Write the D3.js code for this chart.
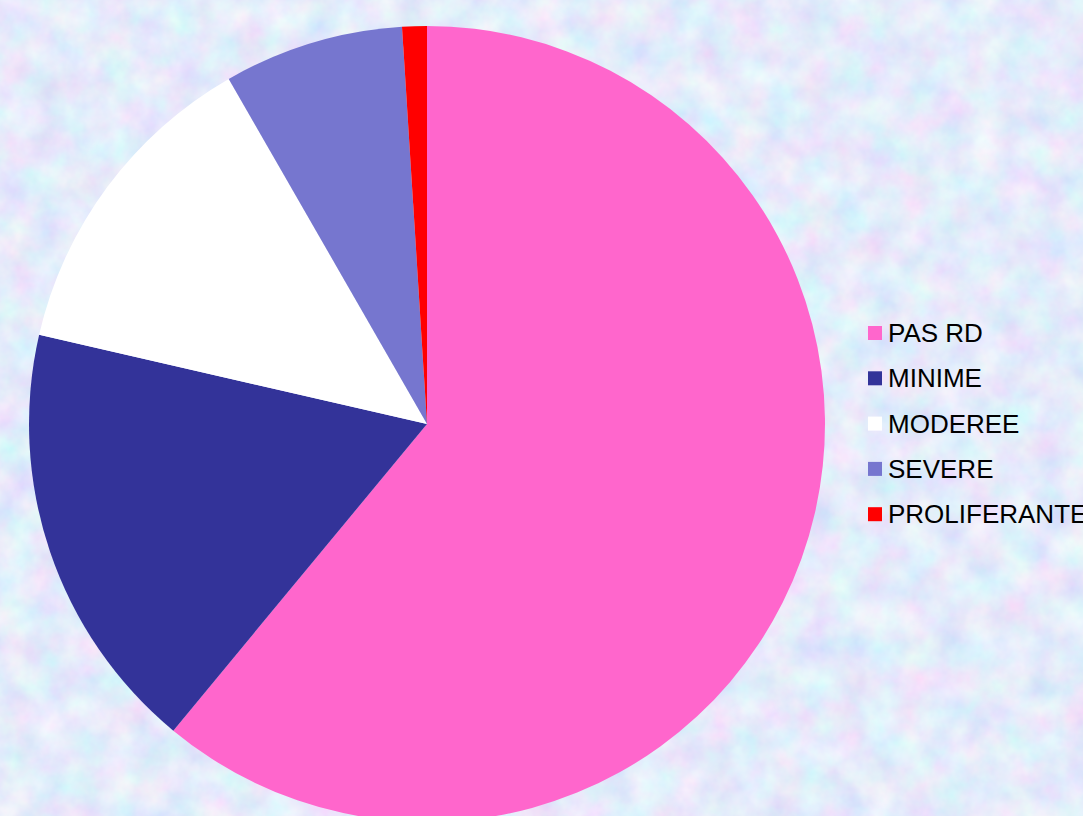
<!DOCTYPE html>
<html>
<head>
<meta charset="utf-8">
<script src="https://cdn.jsdelivr.net/npm/d3@7"></script>
<style>
  html, body { margin: 0; padding: 0; overflow: hidden; }
  svg { display: block; }
</style>
</head>
<body>
<svg id="chart"></svg>
<script>
// data (share of patients, %)
var categories = ["PAS RD", "MINIME", "MODEREE", "SEVERE", "PROLIFERANTE"];
var values = [61.0, 17.6, 13.1, 7.3, 1.0];
var colors = ["#ff66cc", "#333399", "#ffffff", "#7676cf", "#ff0000"];

var width = 1083, height = 816;
var cx = 427, cy = 424, radius = 398;

var svg = d3.select("#chart")
    .attr("width", width)
    .attr("height", height);

// textured pastel background
var defs = svg.append("defs");
var filt = defs.append("filter")
    .attr("id", "marble")
    .attr("x", 0).attr("y", 0).attr("width", "100%").attr("height", "100%");
filt.append("feTurbulence")
    .attr("type", "fractalNoise")
    .attr("baseFrequency", 0.03)
    .attr("numOctaves", 4)
    .attr("seed", 7)
    .attr("result", "noise");
filt.append("feColorMatrix")
    .attr("in", "noise")
    .attr("type", "matrix")
    .attr("values", "0.42 0 0 0 0.57  0 0.36 0 0 0.655  0 0 0.1 0 0.91  0 0 0 0 1");

svg.append("rect")
    .attr("width", width).attr("height", height)
    .attr("fill", "#c8d4f4");
svg.append("rect")
    .attr("width", width).attr("height", height)
    .attr("filter", "url(#marble)");

// pie
var pie = d3.pie().sort(null).value(function(d) { return d; });
var arc = d3.arc().innerRadius(0).outerRadius(radius);
var color = d3.scaleOrdinal().domain(categories).range(colors);

var g = svg.append("g")
    .attr("transform", "translate(" + cx + "," + cy + ")");

g.selectAll("path.slice")
    .data(pie(values))
    .enter().append("path")
    .attr("class", "slice")
    .attr("d", arc)
    .attr("fill", function(d, i) { return color(categories[i]); });

// legend
var legendX = 868, legendY = 326, rowGap = 45.3;
var legend = svg.append("g").attr("class", "legend");
var rows = legend.selectAll("g")
    .data(categories)
    .enter().append("g")
    .attr("transform", function(d, i) { return "translate(" + legendX + "," + (legendY + i * rowGap) + ")"; });

rows.append("rect")
    .attr("width", 14).attr("height", 14)
    .attr("fill", function(d) { return color(d); });

rows.append("text")
    .attr("x", 20)
    .attr("y", 16)
    .attr("font-family", "Liberation Sans, Arial, sans-serif")
    .attr("font-size", 26)
    .attr("fill", "#000")
    .text(function(d) { return d; });
</script>
</body>
</html>
